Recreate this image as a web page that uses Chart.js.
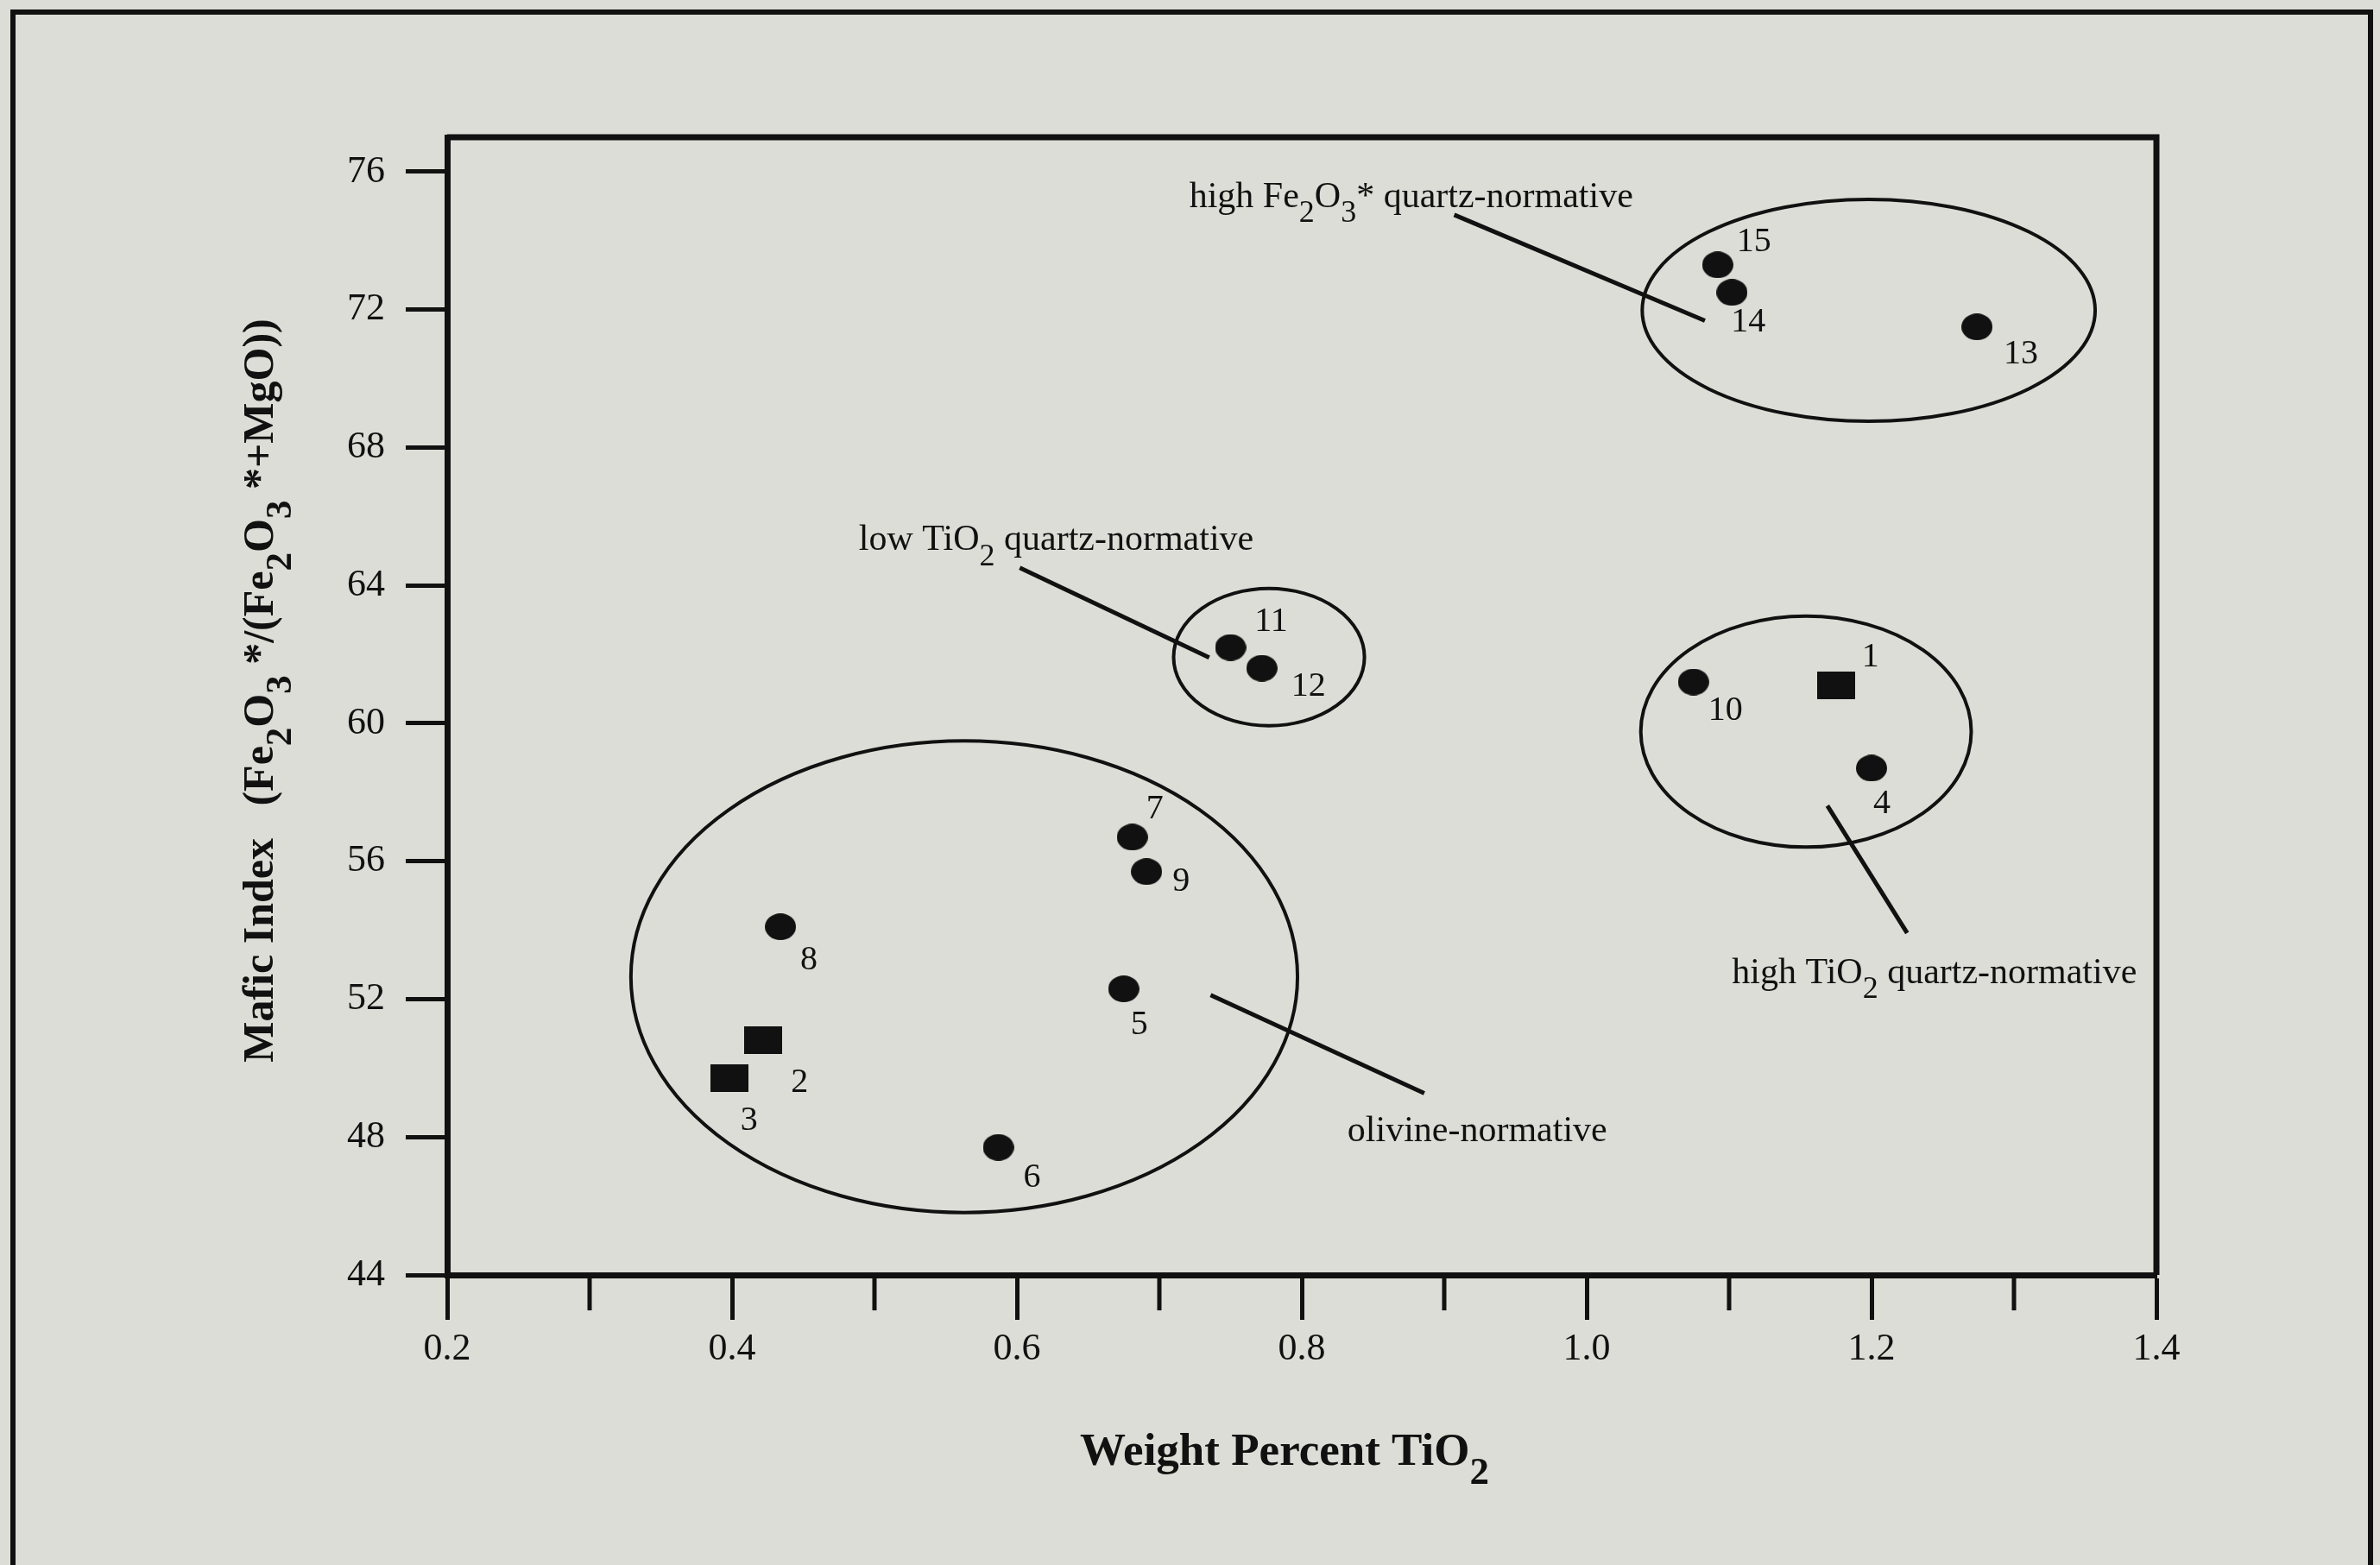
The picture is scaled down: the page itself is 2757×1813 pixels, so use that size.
<!DOCTYPE html>
<html>
<head>
<meta charset="utf-8">
<script src="https://cdn.jsdelivr.net/npm/chart.js@4.4.1/dist/chart.umd.min.js"></script>
<style>
html, body { margin: 0; padding: 0; background: #dcddd6; }
canvas { display: block; }
</style>
</head>
<body>
<canvas id="chart" width="2757" height="1813"></canvas>
<script>
// muestras 1-15
const sampleIds = [1, 2, 3, 4, 5, 6, 7, 8, 9, 10, 11, 12, 13, 14, 15];
const tio2 = [1.175, 0.422, 0.398, 1.200, 0.675, 0.587, 0.681, 0.434, 0.691, 1.075, 0.750, 0.772, 1.274, 1.102, 1.092];
const mafic = [61.1, 50.8, 49.7, 58.7, 52.3, 47.7, 56.7, 54.1, 55.7, 61.2, 62.2, 61.6, 71.5, 72.5, 73.3];
const markerType = ['square', 'square', 'square', 'circle', 'circle', 'circle', 'circle', 'circle',
                    'circle', 'circle', 'circle', 'circle', 'circle', 'circle', 'circle'];

const xTickValues = [0.2, 0.4, 0.6, 0.8, 1.0, 1.2, 1.4];
const xMinorTicks = [0.3, 0.5, 0.7, 0.9, 1.1, 1.3];
const yTickValues = [44, 48, 52, 56, 60, 64, 68, 72, 76];

// grupos encerrados con elipses (unidades de los ejes)
const groupLabels = ['olivine-normative', 'low TiO_2 quartz-normative', 'high TiO_2 quartz-normative', 'high Fe_2O_3* quartz-normative'];
const groupCenterX = [0.563, 0.777, 1.154, 1.198];
const groupCenterY = [52.65, 61.92, 59.76, 71.98];
const groupRadiusX = [0.234, 0.067, 0.116, 0.159];
const groupRadiusY = [6.84, 1.99, 3.35, 3.22];
// texto y línea de referencia de cada grupo
const labelX = [0.832, 0.489, 1.102, 0.721];
const labelY = [48.22, 65.38, 52.82, 75.33];
const leaderFrom = [[0.736, 52.12], [0.602, 64.51], [1.169, 57.61], [0.907, 74.75]];
const leaderTo = [[0.886, 49.27], [0.735, 61.91], [1.225, 53.92], [1.083, 71.68]];

const xTitle = 'Weight Percent TiO_2';
const yTitle = 'Mafic Index   (Fe_2O_3 */(Fe_2O_3 *+MgO))';

// desplazamiento de cada número respecto a su punto (px)
const numberOffsets = [[40, -33], [42, 49], [23, 49], [12, 42], [18, 42], [39, 35], [26, -32], [33, 39],
                       [40, 12], [37, 33], [47, -30], [54, 21], [51, 32], [19, 35], [42, -26]];

const FONT = '"Liberation Serif", "Times New Roman", serif';
const INK = '#111';

function makeMarker(w, h, shape) {
    const c = document.createElement('canvas');
    c.width = w; c.height = h;
    const g = c.getContext('2d');
    g.fillStyle = INK;
    if (shape === 'circle') {
        g.beginPath();
        g.ellipse(w / 2, h / 2, w / 2, h / 2, 0, 0, Math.PI * 2);
        g.fill();
    } else {
        g.fillRect(0, 0, w, h);
    }
    return c;
}
const dotMarker = makeMarker(36, 31, 'circle');
const boxMarker = makeMarker(44, 32, 'square');

function pointsOf(type) {
    const out = [];
    sampleIds.forEach((id, i) => {
        if (markerType[i] === type) out.push({ x: tio2[i], y: mafic[i], id: id });
    });
    return out;
}

// texto con subíndices: "_2" -> 2 bajado
function richParts(str) {
    const parts = [];
    for (let i = 0; i < str.length; i++) {
        if (str[i] === '_' && i + 1 < str.length) {
            parts.push({ t: str[i + 1], sub: true });
            i++;
        } else {
            const last = parts[parts.length - 1];
            if (last && !last.sub) last.t += str[i];
            else parts.push({ t: str[i], sub: false });
        }
    }
    return parts;
}

function drawRich(ctx, str, x, y, size, bold, align) {
    const parts = richParts(str);
    const w = bold ? 'bold ' : '';
    const subSize = Math.round(size * 0.85);
    let total = 0;
    parts.forEach(p => {
        ctx.font = w + (p.sub ? subSize : size) + 'px ' + FONT;
        p.w = ctx.measureText(p.t).width;
        total += p.w;
    });
    let cx = align === 'center' ? x - total / 2 : x;
    ctx.textAlign = 'left';
    ctx.textBaseline = 'alphabetic';
    parts.forEach(p => {
        ctx.font = w + (p.sub ? subSize : size) + 'px ' + FONT;
        ctx.fillText(p.t, cx, y + (p.sub ? size * 0.42 : 0));
        cx += p.w;
    });
}

const figurePlugin = {
    id: 'figure',
    beforeDraw(chart) {
        const ctx = chart.ctx;
        ctx.save();
        ctx.fillStyle = '#dcddd6';
        ctx.fillRect(0, 0, chart.width, chart.height);
        // marco exterior de la figura
        ctx.strokeStyle = INK;
        ctx.lineWidth = 6;
        ctx.strokeRect(15, 14, 2731, 1834);
        ctx.restore();
    },
    beforeDatasetsDraw(chart) {
        const ctx = chart.ctx;
        const xs = chart.scales.x, ys = chart.scales.y;
        ctx.save();
        ctx.strokeStyle = INK;
        ctx.lineWidth = 4;
        groupCenterX.forEach((gx, i) => {
            const px = xs.getPixelForValue(gx), py = ys.getPixelForValue(groupCenterY[i]);
            const rx = Math.abs(xs.getPixelForValue(gx + groupRadiusX[i]) - px);
            const ry = Math.abs(ys.getPixelForValue(groupCenterY[i] + groupRadiusY[i]) - py);
            ctx.beginPath();
            ctx.ellipse(px, py, rx, ry, 0, 0, Math.PI * 2);
            ctx.stroke();
        });
        // líneas de referencia
        ctx.lineWidth = 5;
        leaderFrom.forEach((a, i) => {
            const b = leaderTo[i];
            ctx.beginPath();
            ctx.moveTo(xs.getPixelForValue(a[0]), ys.getPixelForValue(a[1]));
            ctx.lineTo(xs.getPixelForValue(b[0]), ys.getPixelForValue(b[1]));
            ctx.stroke();
        });
        ctx.fillStyle = INK;
        groupLabels.forEach((txt, i) => {
            drawRich(ctx, txt, xs.getPixelForValue(labelX[i]), ys.getPixelForValue(labelY[i]) + 14, 42, false, 'left');
        });
        ctx.restore();
    },
    afterDatasetsDraw(chart) {
        const ctx = chart.ctx;
        const xs = chart.scales.x, ys = chart.scales.y;
        const area = chart.chartArea;
        ctx.save();
        // números de muestra
        ctx.fillStyle = INK;
        ctx.font = '40px ' + FONT;
        ctx.textAlign = 'center';
        ctx.textBaseline = 'middle';
        sampleIds.forEach((id, i) => {
            const px = xs.getPixelForValue(tio2[i]) + numberOffsets[i][0];
            const py = ys.getPixelForValue(mafic[i]) + numberOffsets[i][1];
            ctx.fillText(String(id), px, py);
        });
        // borde superior y derecho del área
        ctx.strokeStyle = INK;
        ctx.lineWidth = 7;
        ctx.beginPath();
        ctx.moveTo(area.left, area.top);
        ctx.lineTo(area.right, area.top);
        ctx.lineTo(area.right, area.bottom);
        ctx.stroke();
        // marcas menores del eje x
        ctx.lineWidth = 5;
        xMinorTicks.forEach(v => {
            const px = xs.getPixelForValue(v);
            ctx.beginPath();
            ctx.moveTo(px, area.bottom);
            ctx.lineTo(px, area.bottom + 41);
            ctx.stroke();
        });
        // títulos de los ejes
        drawRich(ctx, xTitle, (area.left + area.right) / 2 - 20, 1697, 53, true, 'center');
        ctx.translate(316, (area.top + area.bottom) / 2 - 18);
        ctx.rotate(-Math.PI / 2);
        drawRich(ctx, yTitle, 0, 0, 50, true, 'center');
        ctx.restore();
    }
};

new Chart(document.getElementById('chart'), {
    type: 'scatter',
    data: {
        datasets: [
            {
                label: 'circles',
                data: pointsOf('circle'),
                pointStyle: dotMarker,
                pointRadius: 18,
                backgroundColor: INK,
                borderColor: INK
            },
            {
                label: 'squares',
                data: pointsOf('square'),
                pointStyle: boxMarker,
                pointRadius: 22,
                backgroundColor: INK,
                borderColor: INK
            }
        ]
    },
    options: {
        responsive: false,
        devicePixelRatio: 1,
        animation: false,
        layout: { padding: { left: 0, top: 159, right: 259, bottom: 0 } },
        plugins: {
            legend: { display: false },
            tooltip: { enabled: false }
        },
        scales: {
            x: {
                type: 'linear',
                min: 0.2,
                max: 1.4,
                afterFit: s => { s.height = 336; },
                afterBuildTicks: s => { s.ticks = xTickValues.map(v => ({ value: v })); },
                border: { display: true, color: INK, width: 7 },
                grid: { drawOnChartArea: false, drawTicks: true, tickLength: 52, tickWidth: 5, tickColor: INK },
                ticks: {
                    color: INK,
                    padding: 8,
                    font: { family: FONT, size: 44 },
                    callback: v => v.toFixed(1)
                }
            },
            y: {
                type: 'linear',
                min: 44,
                max: 77,
                afterFit: s => { s.width = 518; },
                afterBuildTicks: s => { s.ticks = yTickValues.map(v => ({ value: v })); },
                border: { display: true, color: INK, width: 7 },
                grid: { drawOnChartArea: false, drawTicks: true, tickLength: 48, tickWidth: 5, tickColor: INK },
                ticks: {
                    color: INK,
                    padding: 24,
                    font: { family: FONT, size: 44 },
                    callback: v => String(v)
                }
            }
        }
    },
    plugins: [figurePlugin]
});
</script>
</body>
</html>
